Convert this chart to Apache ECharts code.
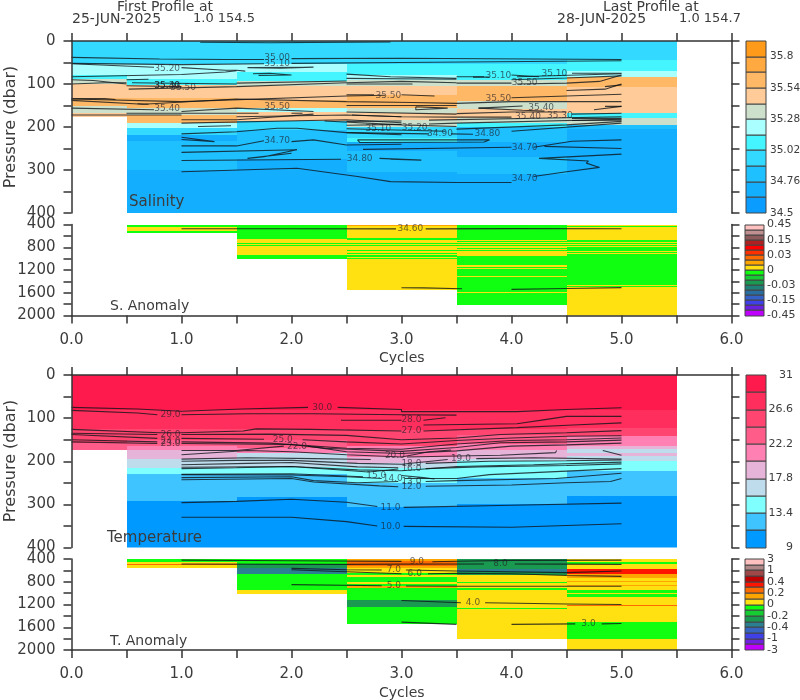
<!DOCTYPE html>
<html><head><meta charset="utf-8">
<script src="https://cdn.jsdelivr.net/npm/echarts@6/dist/echarts.min.js"></script>
<style>html,body{margin:0;padding:0;background:#fff}#c{width:800px;height:700px}</style>
</head><body><div id="c"></div>
<script>
// ---------- colour scales ----------
const salinityLevels=[34.5,34.63,34.76,34.89,35.02,35.15,35.28,35.41,35.54,35.67,35.8,35.93];
const salinityColors=['#0a9cff','#14aeff','#1fc0ff','#33d9ff','#44f5ff','#aaffff','#cce0cc','#ffcc99','#ffb866','#ffa940','#ff9a1a'];
const salinityTicks=['34.5','34.76','35.02','35.28','35.54','35.8'];
const temperatureLevels=[9,11.2,13.4,15.6,17.8,20,22.2,24.4,26.6,28.8,31];
const temperatureColors=['#0099ff','#40c4ff','#80ffff','#bfdcec','#e6b3d9','#ff80b3','#ff5c8a','#ff4570','#ff2e5c','#ff1a4d'];
const temperatureTicks=['9','13.4','17.8','22.2','26.6','31'];
const salAnomLevels=[-.45,-.35,-.25,-.15,-.11,-.07,-.03,-.02,-.01,0,.01,.02,.03,.07,.11,.15,.25,.35,.45];
const salAnomColors=['#c000ff','#6a20e0','#4040e8','#3560c8','#2a6e9f','#1f8078','#1a9950','#15cc33','#10ff10','#ffe010','#ffa500','#ff6a00','#ff3000','#ff0000','#b02020','#8c5a5a','#c09090','#ffc0c0'];
const salAnomTicks=['-0.45','-0.15','-0.03','0','0.03','0.15','0.45'];
const tempAnomLevels=[-3,-2,-1,-.7,-.4,-.3,-.2,-.1,0,.1,.2,.3,.4,.7,1,2,3];
const tempAnomColors=['#c000ff','#7020e0','#4040e8','#3565c0','#2a8090','#1a9950','#15cc33','#10ff10','#ffe010','#ffa500','#ff6a00','#ff1500','#c00000','#a04848','#b08888','#ffc0c0'];
const tempAnomTicks=['-3','-1','-0.4','-0.2','0','0.2','0.4','1','3'];

// ---------- profile columns: cycle edges, then [bottom pressure, value] ----------
const cycleEdges=[0,.5,1.5,2.5,3.5,4.5,5.5];
const sal0=[[53,34.95],[79,35.2],[88,35.08],[100,35.35],[133,35.48],[151,35.6],[167,35.35],[176,35.5]];
const sal1=[[53,34.95],[75,35.2],[88,35.2],[102,35.08],[133,35.48],[155,35.6],[172,35.35],[191,35.6],[202,35.2],[218,34.95],[232,34.7],[300,34.82],[400,34.7]];
const sal2=[[53,34.95],[73,35.2],[93,35.08],[105,35.35],[137,35.48],[155,35.6],[166,35.2],[186,35.48],[207,34.95],[275,34.82],[400,34.7]];
const sal3=[[53,34.95],[78,35.08],[90,35.2],[105,35.35],[125,35.48],[155,35.6],[167,35.35],[183,35.48],[200,35.35],[225,34.95],[235,35.08],[255,34.7],[305,34.82],[400,34.7]];
const sal4=[[53,34.95],[90,35.08],[105,35.35],[140,35.6],[158,35.35],[180,35.48],[190,35.35],[200,35.02],[235,34.82],[270,34.7],[310,34.82],[400,34.7]];
const sal5=[[45,34.95],[70,35.08],[84,35.2],[107,35.6],[168,35.48],[180,35.08],[195,35.35],[205,34.82],[400,34.7]];
const salinityColumns=[sal0,sal1,sal2,sal3,sal4,sal5];

const temp0=[[80,30],[125,28],[157,26],[175,23]];
const temp1=[[80,30],[125,28],[150,26],[165,24],[175,21],[195,19],[215,16.5],[230,14.5],[293,12],[400,10]];
const temp2=[[80,30],[125,28],[150,26],[170,24],[182,21],[213,17],[230,14.5],[282,12],[400,10]];
const temp3=[[80,30],[127,28],[165,26],[190,21],[205,19],[215,16.5],[250,14.5],[305,12],[400,10]];
const temp4=[[80,30],[125,28],[140,26],[160,24],[175,21],[195,19],[200,16.5],[238,14.5],[298,12],[400,10]];
const temp5=[[80,30],[122,28],[142,26],[165,21],[172,19],[180,16.5],[188,19],[200,16.5],[223,14.5],[280,12],[400,10]];
const temperatureColumns=[temp0,temp1,temp2,temp3,temp4,temp5];

const sanom1=[[450,-.005],[510,.005],[550,-.005]];
const sanom2=[[650,-.005],[725,.005],[745,-.005],[765,.005],[785,-.005],[810,.005],[945,.005],[1015,-.005]];
const sanom3=[[430,.015],[460,.005],[640,.005],[680,-.005],[725,.005],[745,-.005],[765,.005],[785,-.005],[810,.005],[850,.005],[865,-.005],[905,.005],[925,-.005],[945,.005],[965,-.005],[985,.005],[1015,-.005],[1544,.005]];
const sanom4=[[665,-.005],[685,.005],[705,-.005],[725,.005],[745,-.005],[765,.005],[785,-.005],[805,.005],[825,-.005],[845,.005],[865,-.005],[900,.005],[960,.005],[1120,-.005],[1140,.005],[1160,-.005],[1180,.005],[1300,-.005],[1320,.005],[1580,-.005],[1600,.005],[1808,-.005]];
const sanom5=[[425,.005],[445,-.005],[475,.005],[665,.005],[700,-.005],[720,.005],[740,-.005],[760,.005],[780,-.005],[800,.005],[820,-.005],[860,-.005],[880,.005],[900,-.005],[925,.005],[1455,-.005],[1475,.005],[1495,-.005],[1570,.005],[2000,.005]];
const salAnomColumns=[[],sanom1,sanom2,sanom3,sanom4,sanom5];

const tanom1=[[455,-.05],[480,.05],[505,.25],[552,.05]];
const tanom2=[[490,-.05],[565,-.25],[665,-.35],[945,-.05],[1020,.05]];
const tanom3=[[435,.15],[517,.25],[564,.15],[652,.05],[680,-.05],[711,.05],[800,-.05],[846,.05],[870,-.05],[916,.15],[1122,-.05],[1240,-.25],[1544,-.05]];
const tanom4=[[505,-.25],[580,-.25],[620,-.35],[682,-.25],[800,.05],[830,-.05],[916,.05],[945,-.05],[1260,.05],[1280,-.05],[1815,.05]];
const tanom5=[[447,.05],[494,-.05],[576,.05],[670,.35],[740,.15],[790,.05],[810,.15],[860,.05],[880,.15],[946,.05],[1000,-.05],[1020,.05],[1063,-.05],[1200,.05],[1220,.25],[1503,.05],[1808,-.05],[2000,.05]];
const tempAnomColumns=[[],tanom1,tanom2,tanom3,tanom4,tanom5];

// ---------- contours: [cycle, pressure] ----------
const salinityContours=[
[[1.17,3],[1.8,4],[2.9,2]],
[[0,38],[.8,42],[1.4,43],[1.75,43]],[[2,41],[3,40],[5,43]],
[[0,52],[1,55],[1.75,53]],[[2,52],[3,50],[5,46]],
[[0,53],[.75,61]],[[1,62],[1.4,68],[1.5,68],[1.58,70]],
[[1.6,62],[2.2,61],[1.9,63],[1.6,62]],
[[0,83],[1,78],[1.4,72],[1.5,69]],
[[0,90],[.2,92],[.5,100]],[[.5,90],[.7,89]],
[[0,100],[.3,97],[.5,97]],[[.5,104],[1,106]],
[[.55,97],[1.5,100]],[[1.5,98],[2.5,93]],
[[1.65,76],[1.8,75],[2,79],[1.7,80]],
[[.52,112],[1.5,106],[2.5,97],[3,94],[3.5,97]],
[[0,135],[1,141],[2.5,128],[2.85,126]],[[3,125],[3.3,128]],
[[0,138],[.65,147],[1.5,135],[2.5,141],[3.1,143],[3.5,145],[4,141],[5,141]],
[[0,134],[.3,134],[.4,136]],[[.6,146],[.7,147]],
[[0,156],[.75,160]],[[1,164],[1.5,156],[2.2,164]],
[[0,172],[1,172]],[[.5,168],[1.7,168]],[[2,168],[2.1,168]],
[[1,183],[1.5,183],[2.2,170]],
[[1.5,176],[2.5,172],[3,176]],[[2.5,150],[3.5,150]],[[2.5,165],[3.5,170]],[[3.5,169],[4,165],[4.5,165]],
[[2.3,186],[3,195],[3.5,199]],[[2.5,204],[3.4,210]],
[[4.55,180],[5,180]],[[4.55,185],[5,184]],
[[1,191],[2.5,183],[3,190]],[[1.15,199],[1.45,197]],
[[1,216],[1.5,211],[1.87,203],[2.05,203],[2.5,213],[3,218]],
[[1,224],[1.3,234],[1,229]],
[[1,244],[1.5,244],[1.75,232]],[[2,234],[2.2,230],[2.5,242],[3,240]],
[[1,259],[2.05,253],[1.75,269],[1.6,273],[2,261]],
[[1,278],[2.45,275]],[[2.8,273],[3.18,277],[2.9,275]],
[[1,304],[2.05,296],[2.6,315],[2.9,327],[3.5,329],[4,329]],
[[4.2,315],[4.5,304],[4.8,294],[4.68,284],[4.7,279],[4.25,273],[5,263]],
[[2.65,252],[4,247]],[[4.2,247],[4.55,233],[5,230]],
[[2.6,230],[3.8,230],[3.75,235],[2.62,236],[2.6,230]],
[[4.3,245],[5,250]],
[[2.5,213],[3.25,216]],[[3.45,216],[3.65,217]],
[[4,210],[5,191]],
[[2.5,187],[3,186]],[[3.25,184],[5,176]],
[[2.5,196],[3,194]],[[3.25,193],[3.5,191],[5,182]],
[[3.5,205],[4.5,195],[5,187]],
[[2.55,172],[3,176],[3.5,177],[4,177]],[[4.55,170],[5,168]],
[[2.5,125],[2.75,125]],
[[3.13,153],[3.42,156],[3.13,160],[3.13,153]],
[[3.7,156],[4.1,161],[4.3,163]],[[3.7,156],[4.1,151]],
[[4.75,160],[5,152]],[[4.85,152],[5,152]],
[[4,132],[4.5,128],[5,124]],
[[4.5,115],[4.85,112],[5,100]],[[4.85,106],[5,102]],
[[3.5,98],[4,98]],[[2.5,100],[3.1,100]],[[2.5,87],[3.5,89]],
[[4.05,100],[4.5,98],[4.8,94],[5,79]],
[[3.65,84],[3.8,84]],[[4.05,83],[5,76]],
[[4,90],[4.5,86],[5,81]],
[[3.5,83],[3.75,83]],[[4,79],[4.25,83]],[[4.55,75],[5,75]],
[[2.5,77],[2.9,83],[3.5,87]]
];
const salinityLabels=[[1.87,39,'35.00'],[1.87,53,'35.10'],[.87,64,'35.20'],[.87,104,'35.30'],[.87,105,'35.40'],[1.015,109,'35.50'],[.87,158,'35.40'],[1.87,153,'35.50'],[2.88,126,'35.50'],[2.79,205,'35.10'],[1.87,232,'34.70'],[2.62,274,'34.80'],[3.88,81,'35.10'],[4.39,77,'35.10'],[4.12,98,'35.50'],[3.88,134,'35.50'],[4.27,155,'35.40'],[4.15,176,'35.40'],[4.44,174,'35.30'],[3.12,201,'35.20'],[3.35,215,'34.90'],[3.78,215,'34.80'],[4.12,248,'34.70'],[4.12,319,'34.70']];
const salAnomContours=[[[1,475],[2,476],[2.95,477]],[[3.22,477],[4,472],[5,475]],[[3,1512],[3.2,1515],[3.55,1530]],[[4,1540],[4.5,1525],[5,1510]]];
const salAnomLabels=[[3.08,476,'34.60']];
const temperatureContours=[
[[0,75],[.6,79],[1,84],[1.55,79],[2.15,75]],[[2.42,75],[3,80],[3,85],[4.05,85],[4.5,80],[5,76]],
[[0,82],[.6,88],[.78,92]],[[1,92],[1.6,90],[2.2,90],[3,92],[3.5,93]],
[[2.45,105],[3,105]],[[3.2,105],[3.4,99]],
[[3.2,116],[4.05,113],[4.29,104],[4.5,96],[5,96]],
[[3.2,130],[4.05,122],[4.56,116],[5,111]],
[[0,126],[.8,134],[1,134],[1.56,130],[1.68,125],[2.17,126],[3,130]],
[[0,135],[.78,138]],[[1,138],[1.8,137],[2.5,140],[3,150],[3.5,146],[3.9,138],[4.5,134],[5,129]],
[[0,138],[.78,147]],[[1,147],[1.75,149]],[[2.1,150],[2.5,155],[3,160],[3.5,152],[4,146],[4.5,142],[5,141]],
[[0,150],[.78,155]],[[1,155],[1.8,158],[2.2,165],[2.5,170],[3,172],[3.5,160],[4,152],[4.5,150],[5,146]],
[[0,155],[.78,159]],[[1,159],[2,161],[2.3,170],[3,177],[3.5,168],[3.9,157],[4.5,155],[5,151]],
[[1,175],[1.5,175],[1.93,165]],[[2.15,165],[2.5,178],[3,182],[3.5,176],[4,165],[4.5,162],[5,158]],
[[1,185],[1.6,175],[2,178],[2.5,185],[3,190],[3.25,178],[3.45,174]],
[[1,195],[1.6,192],[2.2,194],[2.72,196]],[[3.05,190],[3.5,188],[3.9,186],[4.4,180],[4.41,175]],
[[4.83,175],[5,186]],
[[1,200],[1.5,198],[2,198],[2.6,205],[3,207],[3.42,196]],[[3.68,194],[4.2,192],[5,195]],
[[1,208],[1.6,205],[2,203],[2.6,213],[2.97,215]],[[3.22,205],[3.8,200],[4.5,199],[5,197]],
[[1,214],[2,212],[2.6,220],[3,222],[3.5,212],[4.2,208],[5,202]],
[[1,217],[1.5,215],[2,212],[2.7,225],[2.97,218]],[[3.22,217],[3.7,213],[4.5,210],[5,206]],
[[1,230],[2,229],[2.65,236]],[[3,233],[3.2,238],[3.3,241]],
[[1,231],[2,232],[2.5,236],[2.82,240]],[[3.03,240],[3.5,240],[3.8,231],[4.5,223],[5,217]],
[[1,238],[2,236],[2.2,245],[2.6,250],[2.97,247]],[[3.22,247],[3.5,245],[4.4,240],[5,228]],
[[1,243],[2,240],[2.2,248],[2.8,257],[2.97,259]],[[3.22,258],[4,255],[4.5,250],[4.9,247],[5,240]],
[[1,296],[1.5,293],[2,288],[2.5,295],[2.78,305]],[[3.02,307],[4,302],[5,297]],
[[1,330],[2,330],[2.5,340],[2.78,350]],[[3.02,351],[4,353],[4.5,349],[5,345]]
];
const temperatureLabels=[[2.28,75,'30.0'],[.9,92,'29.0'],[3.09,103,'28.0'],[3.09,130,'27.0'],[.9,138,'26.0'],[1.92,150,'25.0'],[.9,155,'24.0'],[.9,159,'23.0'],[2.05,165,'22.0'],[2.94,187,'20.0'],[3.54,194,'19.0'],[3.09,205,'18.0'],[3.09,217,'16.0'],[2.77,233,'15.0'],[2.92,240,'14.0'],[3.09,247,'13.0'],[3.09,259,'12.0'],[2.9,307,'11.0'],[2.9,351,'10.0']];
const tempAnomContours=[
[[1,420],[2,430],[3,442]],[[3.28,448],[3.5,440],[4,425],[5,420]],
[[1,488],[2.5,495],[3,490],[3.75,488]],[[4.03,488],[4.5,490],[5,495]],
[[2,565],[2.5,590],[2.82,593]],[[3.04,593],[3.5,610],[4.5,640],[5,610]],
[[2,590],[2.3,610],[2.5,625],[3,660]],[[3.24,660],[3.5,650],[4,660],[4.5,690],[5,705]],
[[2,850],[2.82,870]],[[3.04,875],[3.5,880],[4,880],[5,880]],
[[3,1130],[3.54,1170]],[[3.76,1170],[4.5,1190],[5,1200]],
[[3,1510],[3.5,1550]],[[4,1550],[4.58,1540]],[[4.82,1540],[5,1535]]
];
const tempAnomLabels=[[3.14,447,'9.0'],[3.9,488,'8.0'],[2.93,593,'7.0'],[3.12,664,'6.0'],[2.93,875,'5.0'],[3.65,1168,'4.0'],[4.7,1544,'3.0']];

// ---------- text ----------
const cycleLabel='Cycles', pressureLabel='Pressure (dbar)';
const panelNames=['Salinity','S. Anomaly','Temperature','T. Anomaly'];

// ---------- building ----------
const FONT='"DejaVu Sans"', INK='#3c3c3c';
const panels=[
 {top:41,h:172,min:0,max:400,int:50,lab:100,cols:salinityColumns,lev:salinityLevels,col:salinityColors,cont:salinityContours,labs:salinityLabels,xtop:true,
  ticks:salinityTicks,tickEvery:2,barL:746,barW:20,align:'left',margin:4,barFont:10.5},
 {top:224.5,h:91,min:400,max:2000,int:200,lab:400,cols:salAnomColumns,lev:salAnomLevels,col:salAnomColors,cont:salAnomContours,labs:salAnomLabels,xtop:false,
  ticks:salAnomTicks,tickEvery:3,barL:745,barW:19,align:'left',margin:3,barFont:11},
 {top:375,h:172.5,min:0,max:400,int:50,lab:100,cols:temperatureColumns,lev:temperatureLevels,col:temperatureColors,cont:temperatureContours,labs:temperatureLabels,xtop:true,
  ticks:temperatureTicks,tickEvery:2,barL:746,barW:20,align:'right',margin:27,barFont:11},
 {top:559,h:91,min:400,max:2000,int:200,lab:400,cols:tempAnomColumns,lev:tempAnomLevels,col:tempAnomColors,cont:tempAnomContours,labs:tempAnomLabels,xtop:false,
  ticks:tempAnomTicks,tickEvery:2,barL:745,barW:19,align:'left',margin:3,barFont:11}
];
const grid=[],xAxis=[],yAxis=[],series=[];
const axLine={show:true,onZero:false,lineStyle:{color:'#333',width:1.5}};
function colorFor(p,v){let i=0;while(i<p.col.length-1&&v>=p.lev[i+1])i++;return p.col[i];}
function rectItem(color,stroke){return function(params,api){
  const a=api.coord([api.value(0),api.value(2)]),b=api.coord([api.value(1),api.value(3)]);
  const x0=Math.round(a[0]),x1=Math.round(b[0]),y0=Math.round(a[1]),y1=Math.round(b[1]);
  return {type:'rect',shape:{x:x0,y:y0,width:x1-x0,height:y1-y0},
    style:{fill:color(api.value(4)),stroke:stroke||null,lineWidth:stroke?1:0}};
};}
panels.forEach((p,i)=>{
  grid.push({left:71.5,width:660,top:p.top,height:p.h,outerBoundsMode:'none'});
  const gi=grid.length-1, xi=xAxis.length, yi=yAxis.length;
  xAxis.push({gridIndex:gi,type:'value',min:0,max:6,interval:.5,position:p.xtop?'top':'bottom',z:6,
    splitLine:{show:false},axisLine:axLine,
    axisTick:{show:true,length:8,inside:false,lineStyle:{color:'#333',width:1.5}},
    axisLabel:{show:!p.xtop,margin:17,color:INK,fontFamily:FONT,fontSize:15,
      formatter:v=>Number.isInteger(v)?v.toFixed(1):''}});
  [['left',true],['right',false]].forEach(([pos,lab])=>yAxis.push({gridIndex:gi,type:'value',inverse:true,min:p.min,max:p.max,interval:p.int,position:pos,z:6,
    splitLine:{show:false},axisLine:axLine,
    axisTick:{show:true,length:8,lineStyle:{color:'#333',width:1.5}},
    axisLabel:{show:lab,margin:16,padding:[5,0,0,0],color:INK,fontFamily:FONT,fontSize:15,showMinLabel:true,showMaxLabel:true,formatter:v=>v%p.lab===0?String(v):''}}));
  const data=[];
  p.cols.forEach((bands,c)=>{let top=p.min;bands.forEach(([bot,v])=>{data.push([cycleEdges[c],cycleEdges[c+1],top,bot,v]);top=bot;});});
  series.push({type:'custom',xAxisIndex:xi,yAxisIndex:yi,coordinateSystem:'cartesian2d',clip:true,silent:true,z:1,
    data,encode:{x:[0,1],y:[2,3]},renderItem:rectItem(v=>colorFor(p,v))});
  p.cont.forEach(line=>series.push({type:'line',xAxisIndex:xi,yAxisIndex:yi,data:line,symbol:'none',silent:true,z:2,clip:true,
    lineStyle:{color:'rgba(15,20,25,.8)',width:1.1}}));
  series.push({type:'custom',xAxisIndex:xi,yAxisIndex:yi,coordinateSystem:'cartesian2d',silent:true,z:3,
    data:p.labs.map(l=>[l[0],l[1]]),encode:{x:0,y:1},
    renderItem:(params,api)=>{const c=api.coord([api.value(0),api.value(1)]);
      return {type:'text',x:c[0],y:c[1],style:{text:p.labs[params.dataIndex][2],fill:'rgba(30,30,40,.68)',font:'9px '+FONT,align:'center',verticalAlign:'middle'}};}});
  // colour bar
  grid.push({left:p.barL,width:p.barW,top:p.top,height:p.h,outerBoundsMode:'none'});
  const bg=grid.length-1,bx=xAxis.length,by=yAxis.length;
  const n=p.col.length;
  xAxis.push({gridIndex:bg,type:'value',min:0,max:1,show:false});
  yAxis.push({gridIndex:bg,type:'value',min:0,max:n,interval:p.tickEvery,position:'right',
    axisLine:{show:false},axisTick:{show:false},splitLine:{show:false},
    axisLabel:{show:true,margin:p.margin,align:p.align,color:INK,fontFamily:FONT,fontSize:p.barFont,showMinLabel:true,showMaxLabel:n%p.tickEvery===0,
      formatter:v=>{const t=p.ticks[v/p.tickEvery];return t===undefined?'':t;}}});
  series.push({type:'custom',xAxisIndex:bx,yAxisIndex:by,coordinateSystem:'cartesian2d',silent:true,clip:false,z:2,
    data:p.col.map((c,k)=>[0,1,k+1,k,k]),encode:{x:[0,1],y:[2,3]},
    renderItem:rectItem(k=>p.col[k],'#444')});
});
function txt(text,left,top,size){return {text,left,top,padding:0,itemGap:0,textStyle:{fontFamily:FONT,fontSize:size||14,fontWeight:'normal',color:INK}};}
const title=[
 txt('First Profile at',117,0,14),txt('25-JUN-2025',72,12,14),txt('1.0 154.5',193,12,13),
 txt('Last Profile at',603,0,14),txt('28-JUN-2025',557,12,14),txt('1.0 154.7',679,12,13),
 txt(panelNames[0],129,195,15),txt(panelNames[1],110,299,14),txt(panelNames[2],107,531,15),txt(panelNames[3],110,634,14),
 txt(cycleLabel,379,351,14),txt(cycleLabel,379,686,14)
];
const graphic=[127,461].map(y=>({type:'text',x:11,y,rotation:Math.PI/2,
  style:{text:pressureLabel,font:'16px '+FONT,fill:INK,align:'center',verticalAlign:'middle'}}));
echarts.init(document.getElementById('c'),null,{renderer:'canvas'}).setOption({
  animation:false,backgroundColor:'#fff',title,grid,xAxis,yAxis,series,graphic
});
</script></body></html>
